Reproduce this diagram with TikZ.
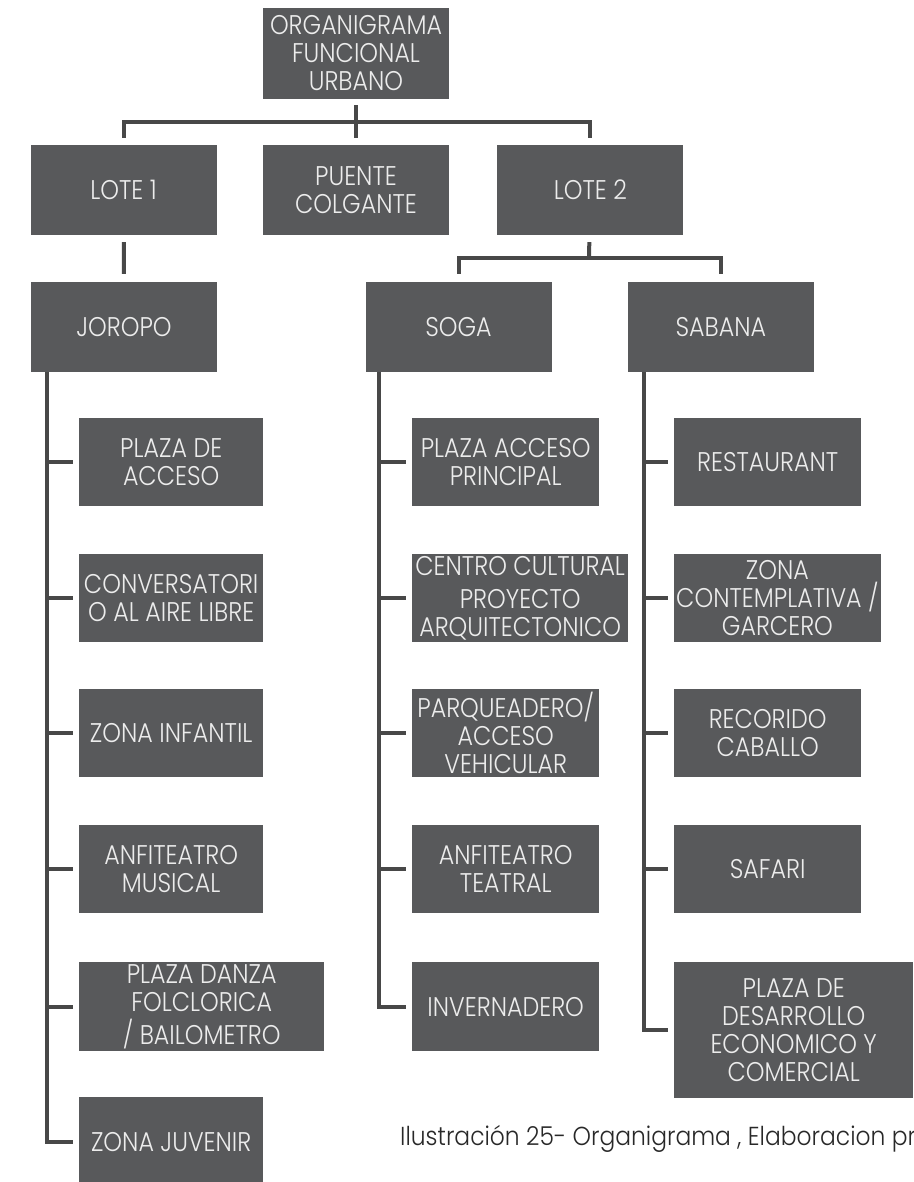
\documentclass[tikz,border=0pt]{standalone}
\usepackage{fontspec}
\setmainfont{Poppins}
\newfontfamily\orgfont[FakeStretch=0.88]{Poppins Light}
\newfontfamily\capfont[FakeStretch=0.9]{Poppins Light}
\usetikzlibrary{positioning}
\definecolor{boxgray}{RGB}{88,89,91}
\definecolor{linegray}{RGB}{72,72,72}
\definecolor{boxtext}{RGB}{236,236,236}
\definecolor{captext}{RGB}{40,40,40}

\begin{document}
\begin{tikzpicture}[x=1pt, y=-1pt, box/.style={fill=boxgray, text=boxtext, align=center, inner sep=2pt, minimum width=186pt, minimum height=88pt, font={\orgfont\fontsize{27}{28}\selectfont}}, conn/.style={draw=linegray, line width=4pt}]
\useasboundingbox (0,0) rectangle (913,1182);
\clip (0,0) rectangle (913,1182);
% top levels
\node[box, minimum height=91pt] (root) at (356,53.5) {ORGANIGRAMA\\FUNCIONAL\\URBANO};
\node[box, minimum height=90pt] (puente) at (356,190) {PUENTE\\COLGANTE};
\node[box, minimum height=90pt, left=46pt of puente] (lote1) {LOTE 1};
\node[box, minimum height=90pt, right=48pt of puente] (lote2) {LOTE 2};
\node[box, minimum height=90pt] (joropo) at (124,327) {JOROPO};
\node[box, minimum height=90pt] (soga) at (458.5,327) {SOGA};
\node[box, minimum height=90pt, right=76pt of soga] (sabana) {SABANA};
% joropo
\node[box, anchor=north west, minimum width=184pt] (plazaacc) at (79,418) {PLAZA DE\\ACCESO};
\node[box, anchor=north west, minimum width=184pt] (conversa) at (79,554) {CONVERSATORI\\O AL AIRE LIBRE};
\node[box, anchor=north west, minimum width=184pt] (zonainf) at (79,689) {ZONA INFANTIL};
\node[box, anchor=north west, minimum width=184pt] (anfimus) at (79,825) {ANFITEATRO\\MUSICAL};
\node[box, anchor=north west, minimum width=245pt, minimum height=89pt] (danza) at (79,962) {PLAZA DANZA\\FOLCLORICA\\[5pt]/ BAILOMETRO};
\node[box, anchor=north west, minimum width=184pt, minimum height=90pt] (zonajuv) at (79,1097) {ZONA JUVENIR};
% soga
\node[box, anchor=north west, minimum width=187pt] (plazaprin) at (412,418) {PLAZA ACCESO\\PRINCIPAL};
\node[box, anchor=north west, minimum width=216pt] (centro) at (412,554) {CENTRO CULTURAL\\[5pt]PROYECTO\\ARQUITECTONICO};
\node[box, anchor=north west, minimum width=187pt] (parqueo) at (412,689) {PARQUEADERO/\\ACCESO\\VEHICULAR};
\node[box, anchor=north west, minimum width=187pt] (anfitea) at (412,825) {ANFITEATRO\\TEATRAL};
\node[box, anchor=north west, minimum width=187pt, minimum height=89pt] (inverna) at (412,962) {INVERNADERO};
% sabana
\node[box, anchor=north west, minimum width=187pt] (restau) at (674,418) {RESTAURANT};
\node[box, anchor=north west, minimum width=205pt] (contempla) at (674,554) {ZONA\\CONTEMPLATIVA /\\GARCERO};
\node[box, anchor=north west, minimum width=187pt] (recorrido) at (674,689) {RECORIDO\\CABALLO};
\node[box, anchor=north west, minimum width=187pt] (safari) at (674,825) {SAFARI};
\node[box, anchor=north west, minimum width=239pt, minimum height=136pt] (desarrollo) at (674,962) {PLAZA DE\\DESARROLLO\\ECONOMICO Y\\COMERCIAL};
\node[anchor=base west, inner sep=0pt, text=captext, font={\capfont\fontsize{26}{26}\selectfont}] (caption) at (400,1145) {Ilustración 25- Organigrama , Elaboracion pro};
% connectors
\coordinate (bus1) at (356,122);
\coordinate (bus2) at (589,257.5);
\draw[conn, shorten <=6pt, shorten >=7pt] (root) -- (puente);
\draw[conn, shorten <=7pt, shorten >=7pt] (lote1) |- (bus1) -| (lote2);
\draw[conn, shorten <=7pt, shorten >=8pt] (lote1) -- (joropo);
\draw[conn, shorten <=7pt] (lote2) -- (bus2);
\draw[conn, shorten <=8pt, shorten >=8pt] (soga) |- (bus2) -| (sabana);
\coordinate (jspine) at ([xshift=16pt]joropo.south west);
\coordinate (sspine) at ([xshift=14pt]soga.south west);
\coordinate (bspine) at ([xshift=16pt]sabana.south west);
\draw[conn, shorten >=6pt] (jspine) |- (zonajuv);
\draw[conn, shorten >=6pt] (jspine |- plazaacc) -- (plazaacc);
\draw[conn, shorten >=6pt] (jspine |- conversa) -- (conversa);
\draw[conn, shorten >=6pt] (jspine |- zonainf) -- (zonainf);
\draw[conn, shorten >=6pt] (jspine |- anfimus) -- (anfimus);
\draw[conn, shorten >=6pt] (jspine |- danza) -- (danza);
\draw[conn, shorten >=6pt] (sspine) |- (inverna);
\draw[conn, shorten >=6pt] (sspine |- plazaprin) -- (plazaprin);
\draw[conn, shorten >=6pt] (sspine |- centro) -- (centro);
\draw[conn, shorten >=6pt] (sspine |- parqueo) -- (parqueo);
\draw[conn, shorten >=6pt] (sspine |- anfitea) -- (anfitea);
\draw[conn, shorten >=6pt] (bspine) |- (desarrollo);
\draw[conn, shorten >=6pt] (bspine |- restau) -- (restau);
\draw[conn, shorten >=6pt] (bspine |- contempla) -- (contempla);
\draw[conn, shorten >=6pt] (bspine |- recorrido) -- (recorrido);
\draw[conn, shorten >=6pt] (bspine |- safari) -- (safari);
\end{tikzpicture}
\end{document}
